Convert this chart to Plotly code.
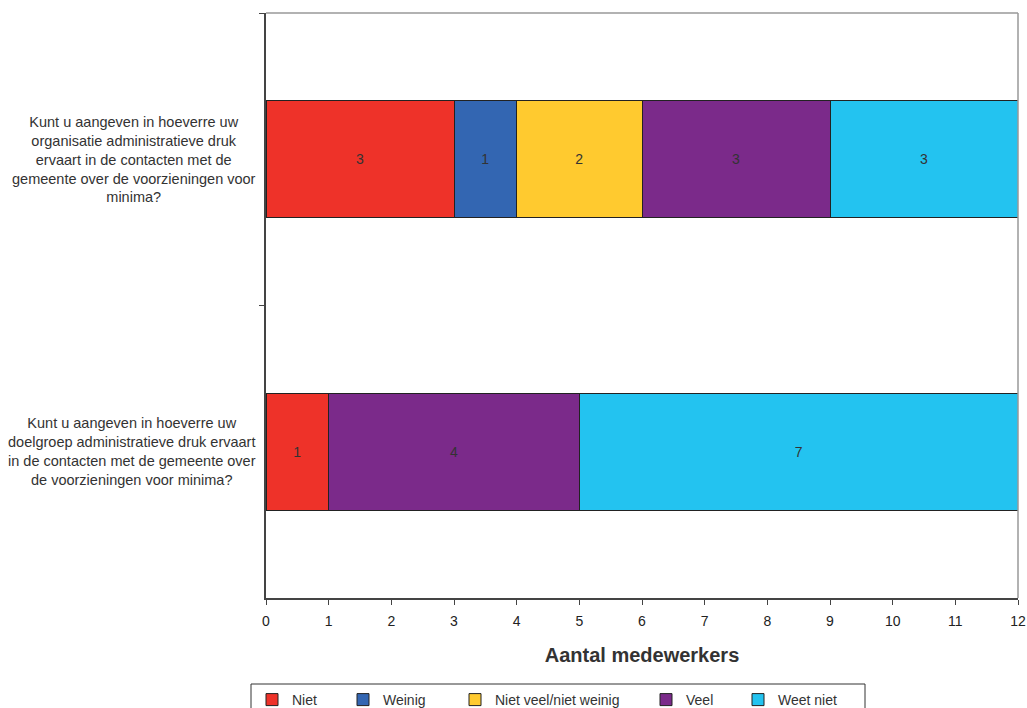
import plotly.graph_objects as go

categories = [
    "Kunt u aangeven in hoeverre uw<br>organisatie administratieve druk<br>ervaart in de contacten met de<br>gemeente over de voorzieningen voor<br>minima?",
    "Kunt u aangeven in hoeverre uw<br>doelgroep administratieve druk ervaart<br>in de contacten met de gemeente over<br>de voorzieningen voor minima?",
]
series_names = ["Niet", "Weinig", "Niet veel/niet weinig", "Veel", "Weet niet"]
series_values = {
    "Niet": [3, 1],
    "Weinig": [1, 0],
    "Niet veel/niet weinig": [2, 0],
    "Veel": [3, 4],
    "Weet niet": [3, 7],
}
colors = {
    "Niet": "#EE3229",
    "Weinig": "#3366B2",
    "Niet veel/niet weinig": "#FFCA2F",
    "Veel": "#7B2A8A",
    "Weet niet": "#23C3F0",
}
x_ticks = list(range(0, 13))

FONT = "Liberation Sans, Arial"
W, H = 1027, 708
ML, MR, MT, MB = 266, 9, 13, 110

# pixel x where each legend entry's text starts (one legend per series)
legend_text_px = [289, 380, 492, 683, 775]

fig = go.Figure()
legend_layouts = {}
for i, name in enumerate(series_names):
    vals = series_values[name]
    lid = "legend" if i == 0 else f"legend{i + 1}"
    fig.add_trace(go.Bar(
        y=categories, x=vals, name=name, orientation="h",
        marker=dict(color=colors[name], line=dict(color="#222222", width=1)),
        text=[str(v) if v else "" for v in vals],
        textposition="inside", insidetextanchor="middle",
        textfont=dict(family=FONT, size=14, color="#333333"),
        hoverinfo="x+name", legend=lid,
    ))
    legend_layouts[lid] = dict(
        orientation="h", xref="container", x=(legend_text_px[i] - 37) / W, xanchor="left",
        yref="container", y=1 - 684 / H, yanchor="top",
        bgcolor="rgba(0,0,0,0)", borderwidth=0,
        font=dict(family=FONT, size=14, color="#333"), itemwidth=30,
    )

for c in categories:
    fig.add_annotation(
        x=0, xref="paper", xshift=-8, y=c, yref="y",
        text=c, showarrow=False, xanchor="right", yanchor="middle", align="center",
        font=dict(family=FONT, size=14.5, color="#333333"),
    )

fig.update_layout(
    width=W, height=H,
    margin=dict(l=ML, r=MR, t=MT, b=MB, autoexpand=False),
    barmode="stack", bargap=0.6,
    plot_bgcolor="white", paper_bgcolor="white",
    font=dict(family=FONT, size=14, color="#333333"),
    xaxis=dict(
        range=[0, 12], tickvals=x_ticks, ticktext=[str(t) for t in x_ticks],
        ticks="outside", ticklen=5, tickcolor="#444", showgrid=False,
        showline=True, linecolor="#444", linewidth=1.5, mirror=False,
        zeroline=False, tickfont=dict(size=14, color="#222"), automargin=False,
        ticklabelstandoff=4,
        title=dict(text="<b>Aantal medewerkers</b>", font=dict(size=20, color="#333"), standoff=20),
    ),
    yaxis=dict(
        categoryorder="array", categoryarray=categories, autorange="reversed",
        showticklabels=False, ticks="outside", ticklen=5, tickcolor="#444",
        tickson="boundaries", showgrid=False, automargin=False,
        showline=True, linecolor="#444", linewidth=1.5,
    ),
    showlegend=True,
    **legend_layouts,
)

plot_w = W - ML - MR
plot_h = H - MT - MB
def px_x(p):
    return (p - ML) / plot_w
def px_y(p):
    return (H - MB - p) / plot_h

# legend frame
fig.add_shape(type="rect", xref="paper", yref="paper",
              x0=px_x(251), x1=px_x(865), y0=px_y(684), y1=px_y(716),
              line=dict(color="#333333", width=1), fillcolor="rgba(0,0,0,0)", layer="below")
# light grey frame on top and right
fig.add_shape(type="line", xref="paper", yref="paper", x0=0, x1=1, y0=1, y1=1,
              line=dict(color="#999999", width=1.5))
fig.add_shape(type="line", xref="paper", yref="paper", x0=1, x1=1, y0=0, y1=1,
              line=dict(color="#999999", width=1.5))

fig.write_html("out.html", post_script="document.body.style.margin='0';",
               config={"displayModeBar": False})
